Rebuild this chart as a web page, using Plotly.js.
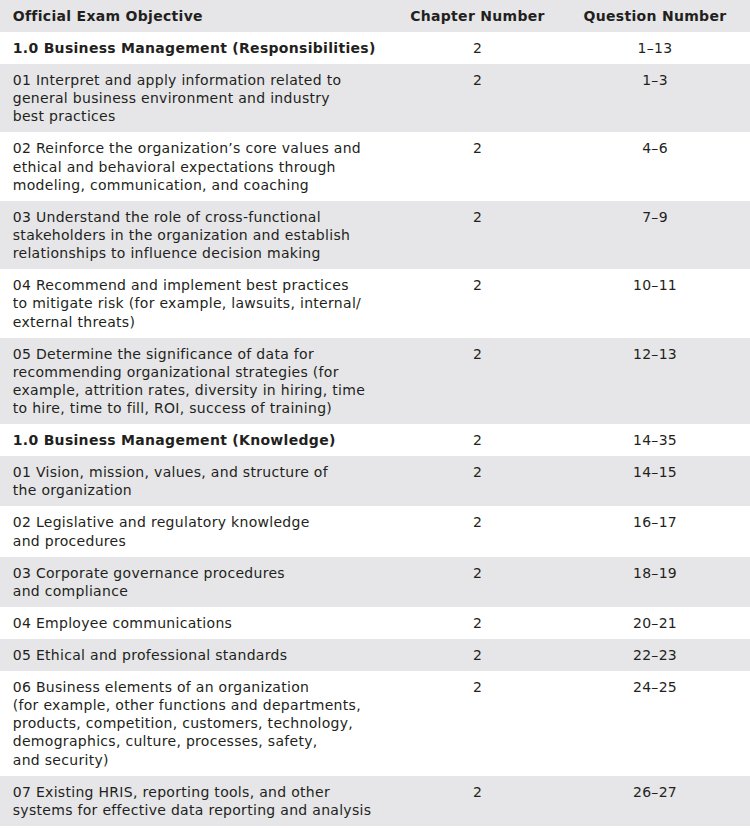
<!DOCTYPE html>
<html>
<head>
<meta charset="utf-8">
<script src="https://cdn.plot.ly/plotly-3.0.1.min.js"></script>
<style>
html,body{margin:0;padding:0;background:#fff;}
#chart{width:750px;height:828px;}
#chart text{letter-spacing:0.3px;}
</style>
</head>
<body>
<div id="chart"></div>
<script>
var headers = ["<b>Official Exam Objective</b>", "<b>Chapter Number</b>", "<b>Question Number</b>"];

var objectives = [
  "<b>1.0 Business Management (Responsibilities)</b>",
  "01 Interpret and apply information related to<br>general business environment and industry<br>best practices",
  "02 Reinforce the organization’s core values and<br>ethical and behavioral expectations through<br>modeling, communication, and coaching",
  "03 Understand the role of cross-functional<br>stakeholders in the organization and establish<br>relationships to influence decision making",
  "04 Recommend and implement best practices<br>to mitigate risk (for example, lawsuits, internal/<br>external threats)",
  "05 Determine the significance of data for<br>recommending organizational strategies (for<br>example, attrition rates, diversity in hiring, time<br>to hire, time to fill, ROI, success of training)",
  "<b>1.0 Business Management (Knowledge)</b>",
  "01 Vision, mission, values, and structure of<br>the organization",
  "02 Legislative and regulatory knowledge<br>and procedures",
  "03 Corporate governance procedures<br>and compliance",
  "04 Employee communications",
  "05 Ethical and professional standards",
  "06 Business elements of an organization<br>(for example, other functions and departments,<br>products, competition, customers, technology,<br>demographics, culture, processes, safety,<br>and security)",
  "07 Existing HRIS, reporting tools, and other<br>systems for effective data reporting and analysis"
];

var chapters = ["2","2","2","2","2","2","2","2","2","2","2","2","2","2"];

var questions = ["1–13","1–3","4–6","7–9","10–11","12–13","14–35","14–15","16–17","18–19","20–21","22–23","24–25","26–27"];

// render every cell through the same text path (markup, no auto-wrap)
function prep(v) { return "<span>" + String(v).replace(/ /g, "\u00a0") + "</span>"; }
// small left inset on every line of the first column
function inset(v) { return "\u00a0" + String(v).replace(/<br>/g, "<br>\u00a0"); }

var GRAY = "#e6e6e8";
var rowFill = objectives.map(function(_, i){ return i % 2 === 0 ? "#ffffff" : GRAY; });
var FONT = {family: "DejaVu Sans, sans-serif", size: 14, color: "#231f20"};

var headerVals = headers.map(function(h, i){ return prep(i === 0 ? inset(h) : h); });

var trace = {
  type: "table",
  columnwidth: [395, 165, 190],
  domain: {x: [0, 1], y: [0, 1]},
  header: {
    values: headerVals,
    align: ["left", "center", "center"],
    height: 28,
    fill: {color: GRAY},
    line: {width: 0, color: GRAY},
    font: FONT
  },
  cells: {
    values: [objectives.map(function(o){ return prep(inset(o)); }), chapters.map(prep), questions.map(prep)],
    align: ["left", "center", "center"],
    height: 28,
    fill: {color: [rowFill, rowFill, rowFill]},
    line: {width: 0, color: "#ffffff"},
    font: FONT
  }
};

var layout = {
  width: 750,
  height: 828,
  margin: {l: 0, r: 0, t: 0, b: 0, pad: 0},
  paper_bgcolor: "#ffffff",
  plot_bgcolor: "#ffffff"
};

Plotly.newPlot("chart", [trace], layout, {displayModeBar: false, staticPlot: true});
</script>
</body>
</html>
